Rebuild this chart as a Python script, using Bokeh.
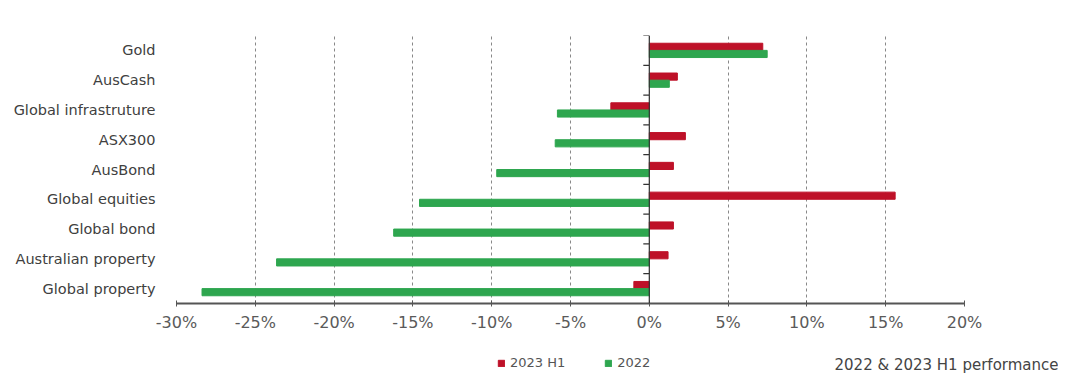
import math
from bokeh.plotting import figure
from bokeh.layouts import column
from bokeh.models import (FactorRange, Range1d, ColumnDataSource, Span, FixedTicker,
                          PrintfTickFormatter, Legend, LegendItem, Title)
from bokeh.transform import dodge
from bokeh.embed import file_html
from bokeh.resources import INLINE

categories = ["Gold", "AusCash", "Global infrastruture", "ASX300", "AusBond",
              "Global equities", "Global bond", "Australian property", "Global property"]
h1_2023 = [7.2, 1.78, -2.44, 2.29, 1.53, 15.6, 1.53, 1.19, -0.98]
y2022 = [7.48, 1.27, -5.83, -5.97, -9.68, -14.58, -16.22, -23.65, -28.38]
x_ticks = [-30, -25, -20, -15, -10, -5, 0, 5, 10, 15, 20]
series_names = ["2023 H1", "2022"]
title_text = "2022 & 2023 H1 performance"

RED = "#BE1128"
GREEN = "#2EA64F"
FONT = "DejaVu Sans"
W = 1058

src = ColumnDataSource(dict(cat=categories, h1=h1_2023, y22=y2022))

p = figure(y_range=FactorRange(*list(reversed(categories)), range_padding=0),
           x_range=Range1d(-30, 20),
           width=W, height=333, frame_width=788, frame_height=268,
           min_border_left=176, min_border_right=94, min_border_top=35, min_border_bottom=30,
           output_backend="svg", toolbar_location=None, outline_line_color=None)

r1 = p.hbar(y=dodge("cat", 0.12, range=p.y_range), right="h1", left=0, height=0.24,
            source=src, color=RED)
r2 = p.hbar(y=dodge("cat", -0.12, range=p.y_range), right="y22", left=0, height=0.24,
            source=src, color=GREEN)

# zero line + its ticks at category boundaries
p.add_layout(Span(location=0, dimension="height", line_color="#333333", line_width=1.2))
p.ray(x=0, y=dodge("cat", 0.5, range=p.y_range), length=6, length_units="screen",
      angle=math.pi, color="#333333", line_width=1.2, source=src)

# x axis
p.xaxis.ticker = FixedTicker(ticks=x_ticks)
p.xaxis.formatter = PrintfTickFormatter(format="%d%%")
p.xaxis.axis_line_color = "#555555"
p.xaxis.axis_line_width = 2
p.xaxis.major_tick_in = 3
p.xaxis.major_tick_out = 3
p.xaxis.major_tick_line_color = "#555555"
p.xaxis.minor_tick_line_color = None
p.xaxis.major_label_text_font = FONT
p.xaxis.major_label_text_font_size = "16px"
p.xaxis.major_label_text_color = "#5a5a5a"
p.xaxis.major_label_standoff = 6

# y axis (labels only)
p.yaxis.axis_line_color = None
p.yaxis.major_tick_line_color = None
p.yaxis.major_label_standoff = 15
p.yaxis.major_label_text_font = FONT
p.yaxis.major_label_text_font_size = "14.5px"
p.yaxis.major_label_text_color = "#404040"

# grid
p.xgrid.ticker = FixedTicker(ticks=x_ticks)
p.xgrid.grid_line_color = "#888888"
p.xgrid.grid_line_dash = "3 3"
p.xgrid.grid_line_width = 1
p.ygrid.grid_line_color = None

# bottom strip with legend and caption
p2 = figure(width=W, height=50, x_range=Range1d(0, 1), y_range=Range1d(0, 1),
            min_border_left=176, min_border_right=94, min_border_top=0, min_border_bottom=0,
            output_backend="svg", toolbar_location=None, outline_line_color=None)
p2.axis.visible = False
p2.grid.visible = False
# legend proxies (kept outside the visible range of this strip)
l1 = p2.hbar(y=-10, right="h1", left=0, height=1, color=RED, source=src)
l2 = p2.hbar(y=-10, right="y22", left=0, height=1, color=GREEN, source=src)
legend = Legend(items=[LegendItem(label=series_names[0], renderers=[l1]),
                       LegendItem(label=series_names[1], renderers=[l2])],
                orientation="horizontal", location=(321, 14),
                padding=0, margin=0, spacing=39, glyph_width=8, glyph_height=8,
                label_standoff=5, label_text_font=FONT, label_text_font_size="13px",
                label_text_color="#555555", border_line_color=None,
                background_fill_alpha=0, label_height=14)
p2.add_layout(legend)
p2.add_layout(Title(text=title_text, align="right", offset=-94, standoff=-58,
                    vertical_align="top",
                    text_font=FONT, text_font_size="15px", text_font_style="normal",
                    text_color="#444444"), "below")

layout = column(p, p2, spacing=0)
open("out.html", "w").write(file_html(layout, INLINE))
